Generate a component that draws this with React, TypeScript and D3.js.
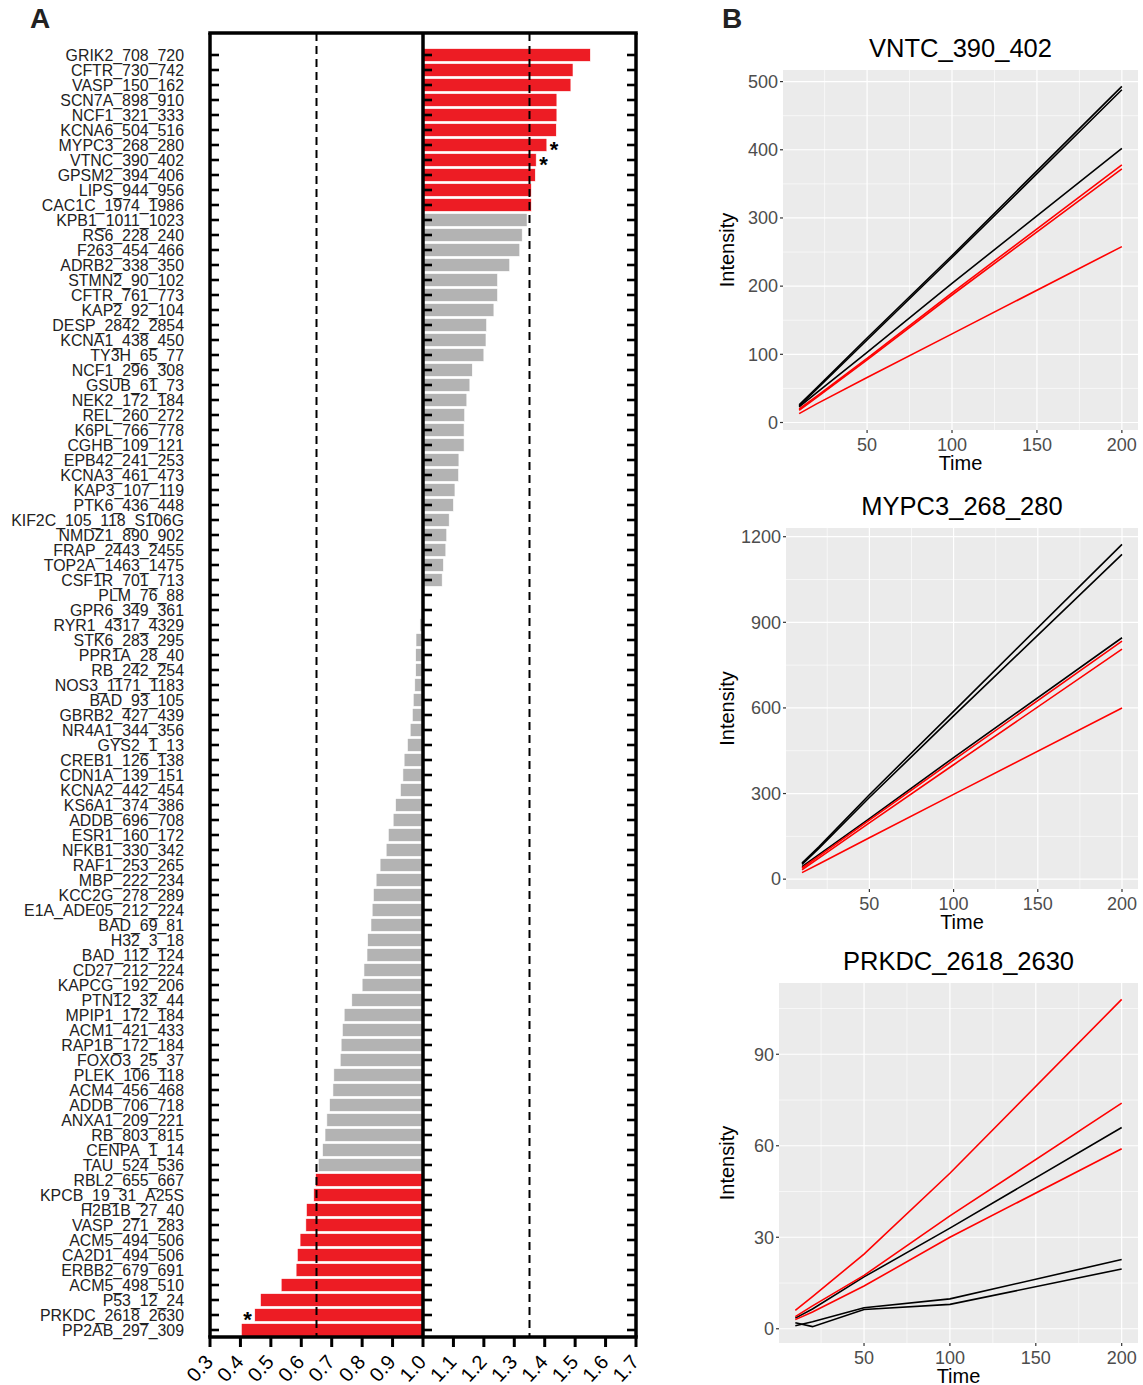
import React from 'react';
import * as d3 from 'd3';

// Panel A: peptide ratios (sorted)
const peptides = [
	'GRIK2_708_720', 'CFTR_730_742', 'VASP_150_162', 'SCN7A_898_910', 'NCF1_321_333',
	'KCNA6_504_516', 'MYPC3_268_280', 'VTNC_390_402', 'GPSM2_394_406', 'LIPS_944_956',
	'CAC1C_1974_1986', 'KPB1_1011_1023', 'RS6_228_240', 'F263_454_466', 'ADRB2_338_350',
	'STMN2_90_102', 'CFTR_761_773', 'KAP2_92_104', 'DESP_2842_2854', 'KCNA1_438_450',
	'TY3H_65_77', 'NCF1_296_308', 'GSUB_61_73', 'NEK2_172_184', 'REL_260_272',
	'K6PL_766_778', 'CGHB_109_121', 'EPB42_241_253', 'KCNA3_461_473', 'KAP3_107_119',
	'PTK6_436_448', 'KIF2C_105_118_S106G', 'NMDZ1_890_902', 'FRAP_2443_2455', 'TOP2A_1463_1475',
	'CSF1R_701_713', 'PLM_76_88', 'GPR6_349_361', 'RYR1_4317_4329', 'STK6_283_295',
	'PPR1A_28_40', 'RB_242_254', 'NOS3_1171_1183', 'BAD_93_105', 'GBRB2_427_439',
	'NR4A1_344_356', 'GYS2_1_13', 'CREB1_126_138', 'CDN1A_139_151', 'KCNA2_442_454',
	'KS6A1_374_386', 'ADDB_696_708', 'ESR1_160_172', 'NFKB1_330_342', 'RAF1_253_265',
	'MBP_222_234', 'KCC2G_278_289', 'E1A_ADE05_212_224', 'BAD_69_81', 'H32_3_18',
	'BAD_112_124', 'CD27_212_224', 'KAPCG_192_206', 'PTN12_32_44', 'MPIP1_172_184',
	'ACM1_421_433', 'RAP1B_172_184', 'FOXO3_25_37', 'PLEK_106_118', 'ACM4_456_468',
	'ADDB_706_718', 'ANXA1_209_221', 'RB_803_815', 'CENPA_1_14', 'TAU_524_536',
	'RBL2_655_667', 'KPCB_19_31_A25S', 'H2B1B_27_40', 'VASP_271_283', 'ACM5_494_506',
	'CA2D1_494_506', 'ERBB2_679_691', 'ACM5_498_510', 'P53_12_24', 'PRKDC_2618_2630',
	'PP2AB_297_309',
];

const ratios = [
	1.55, 1.493, 1.486, 1.44, 1.44,
	1.438, 1.407, 1.372, 1.369, 1.356,
	1.356, 1.342, 1.326, 1.318, 1.285,
	1.245, 1.245, 1.233, 1.209, 1.207,
	1.2, 1.162, 1.154, 1.144, 1.137,
	1.135, 1.135, 1.118, 1.117, 1.105,
	1.1, 1.086, 1.078, 1.075, 1.067,
	1.063, 1.002, 0.998, 0.99, 0.977,
	0.976, 0.976, 0.973, 0.968, 0.965,
	0.958, 0.949, 0.938, 0.934, 0.926,
	0.91, 0.902, 0.886, 0.879, 0.859,
	0.846, 0.837, 0.833, 0.829, 0.818,
	0.816, 0.806, 0.8, 0.766, 0.741,
	0.735, 0.731, 0.728, 0.707, 0.704,
	0.693, 0.684, 0.678, 0.67, 0.656,
	0.647, 0.641, 0.617, 0.615, 0.596,
	0.587, 0.583, 0.534, 0.466, 0.447,
	0.403,
];

const starred = ['MYPC3_268_280', 'VTNC_390_402', 'PRKDC_2618_2630'];
const cutoffs = [0.65, 1.35];
const ratioTicks = [0.3, 0.4, 0.5, 0.6, 0.7, 0.8, 0.9, 1.0, 1.1, 1.2, 1.3, 1.4, 1.5, 1.6, 1.7];

// Panel B: intensity time courses
const times = [10, 20, 50, 100, 200];

const vntcBlack = [
	[26, 50, 124, 245, 493],
	[24, 48, 121, 242, 488],
	[23, 43, 103, 204, 402],
];
const vntcRed = [
	[20, 38, 94, 190, 378],
	[18, 36, 92, 187, 372],
	[13, 27, 66, 130, 258],
];
const vntcTicks = [0, 100, 200, 300, 400, 500];

const mypcBlack = [
	[56, 113, 296, 588, 1173],
	[52, 108, 286, 572, 1138],
	[44, 86, 212, 426, 846],
];
const mypcRed = [
	[39, 81, 207, 417, 834],
	[33, 74, 197, 401, 806],
	[23, 53, 145, 297, 600],
];
const mypcTicks = [0, 300, 600, 900, 1200];

const prkdcBlack = [
	[3.5, 6.5, 17, 33, 66],
	[2, 0.7, 6.3, 8, 19.6],
	[1, 2.3, 6.9, 9.8, 22.7],
];
const prkdcRed = [
	[6, 10.5, 24.5, 51, 108],
	[4, 7.5, 17.5, 37, 74],
	[3, 5.5, 14, 30, 59],
];
const prkdcTicks = [0, 30, 60, 90];

const timeTicks = [50, 100, 150, 200];
const timeMinor = [25, 75, 125, 175];

const FONT = 'Liberation Sans, Arial, Helvetica, sans-serif';
const RED = '#ED1C24';
const GRAY = '#B3B3B3';

function RatioPanel() {
	const top = 33;
	const bottom = 1337;
	const x = d3.scaleLinear().domain([0.3, 1.7]).range([210, 636]);
	const y = d3
		.scaleBand()
		.domain(peptides)
		.range([47.5, 1337.5])
		.paddingInner(0.15)
		.paddingOuter(0.075);
	const x1 = x(1);

	return (
		<g>
			{/* bars */}
			{peptides.map((p, i) => {
				const v = ratios[i];
				const sig = v > cutoffs[1] || v < cutoffs[0];
				const xa = Math.min(x(v), x1);
				return (
					<rect
						key={p}
						x={xa}
						y={y(p)}
						width={Math.abs(x(v) - x1)}
						height={y.bandwidth()}
						fill={sig ? RED : GRAY}
						stroke="#fff"
						strokeWidth={0.6}
					/>
				);
			})}

			{/* cutoff lines */}
			{cutoffs.map((c) => (
				<line
					key={c}
					x1={x(c)}
					x2={x(c)}
					y1={top}
					y2={bottom}
					stroke="#000"
					strokeWidth={2}
					strokeDasharray="8,5"
				/>
			))}

			{/* frame */}
			<line x1={210} x2={636} y1={top} y2={top} stroke="#000" strokeWidth={3.5} strokeLinecap="square" />
			<line x1={210} x2={636} y1={bottom} y2={bottom} stroke="#000" strokeWidth={3.5} strokeLinecap="square" />
			<line x1={210} x2={210} y1={top} y2={bottom} stroke="#000" strokeWidth={3.5} />
			<line x1={636} x2={636} y1={top} y2={bottom} stroke="#000" strokeWidth={3.5} />
			<line x1={x1} x2={x1} y1={top} y2={bottom} stroke="#000" strokeWidth={3.5} />

			{/* category ticks and labels */}
			{peptides.map((p) => {
				const cy = y(p) + y.bandwidth() / 2;
				return (
					<g key={p}>
						<line x1={210} x2={219} y1={cy} y2={cy} stroke="#000" strokeWidth={2.6} />
						<line x1={x1} x2={x1 + 9} y1={cy} y2={cy} stroke="#000" strokeWidth={2.6} />
						<line x1={627} x2={636} y1={cy} y2={cy} stroke="#000" strokeWidth={2.6} />
						<text x={184} y={cy} dy="0.36em" textAnchor="end" fontSize={15.9} fontFamily={FONT} fill="#222">
							{p}
						</text>
					</g>
				);
			})}

			{/* significance stars */}
			{starred.map((p) => {
				const i = peptides.indexOf(p);
				const v = ratios[i];
				const cy = y(p) + y.bandwidth() / 2;
				const right = v > 1;
				return (
					<text
						key={p}
						x={right ? x(v) + 3 : x(v) - 3}
						y={cy + 12}
						textAnchor={right ? 'start' : 'end'}
						fontSize={22}
						fontWeight="bold"
						fontFamily={FONT}
					>
						*
					</text>
				);
			})}

			{/* bottom axis */}
			{ratioTicks.map((t) => (
				<g key={t}>
					<line x1={x(t)} x2={x(t)} y1={bottom} y2={bottom + 10} stroke="#000" strokeWidth={3} />
					<text
						transform={`translate(${x(t) - 1},${bottom + 21}) rotate(-48)`}
						textAnchor="end"
						dy="0.35em"
						fontSize={20}
						fontFamily={FONT}
					>
						{t.toFixed(1)}
					</text>
				</g>
			))}

			<text x={30} y={28} fontSize={28} fontWeight="bold" fontFamily={FONT} fill="#222">
				A
			</text>
		</g>
	);
}

function TimePanel(props) {
	const { title, left, right, top, bottom, black, red, yTicks } = props;
	const all = [...black, ...red].flat();
	const [lo, hi] = d3.extent(all);
	const padY = (hi - lo) * 0.05;
	const padX = (200 - 10) * 0.05;
	const x = d3.scaleLinear().domain([10 - padX, 200 + padX]).range([left, right]);
	const y = d3.scaleLinear().domain([lo - padY, hi + padY]).range([bottom, top]);
	const step = yTicks[1] - yTicks[0];
	const yMinor = [yTicks[0] - step / 2, ...yTicks.map((t) => t + step / 2)].filter(
		(t) => t > lo - padY && t < hi + padY
	);
	const line = d3
		.line()
		.x((d, i) => x(times[i]))
		.y((d) => y(d));
	const cx = (left + right) / 2;

	return (
		<g>
			<rect x={left} y={top} width={right - left} height={bottom - top} fill="#EBEBEB" />
			{timeMinor.map((t) => (
				<line key={'xm' + t} x1={x(t)} x2={x(t)} y1={top} y2={bottom} stroke="#fff" strokeWidth={0.6} />
			))}
			{yMinor.map((t) => (
				<line key={'ym' + t} x1={left} x2={right} y1={y(t)} y2={y(t)} stroke="#fff" strokeWidth={0.6} />
			))}
			{timeTicks.map((t) => (
				<line key={'x' + t} x1={x(t)} x2={x(t)} y1={top} y2={bottom} stroke="#fff" strokeWidth={1.2} />
			))}
			{yTicks.map((t) => (
				<line key={'y' + t} x1={left} x2={right} y1={y(t)} y2={y(t)} stroke="#fff" strokeWidth={1.2} />
			))}

			{black.map((s, i) => (
				<path key={'b' + i} d={line(s)} fill="none" stroke="#000" strokeWidth={1.6} />
			))}
			{red.map((s, i) => (
				<path key={'r' + i} d={line(s)} fill="none" stroke="#FF0000" strokeWidth={1.6} />
			))}

			{yTicks.map((t) => (
				<g key={'yl' + t}>
					<line x1={left - 3} x2={left} y1={y(t)} y2={y(t)} stroke="#333" strokeWidth={1.2} />
					<text
						x={left - 5}
						y={y(t)}
						dy="0.35em"
						textAnchor="end"
						fontSize={18}
						fontFamily={FONT}
						fill="#4D4D4D"
					>
						{t}
					</text>
				</g>
			))}
			{timeTicks.map((t) => (
				<g key={'xl' + t}>
					<line x1={x(t)} x2={x(t)} y1={bottom} y2={bottom + 3} stroke="#333" strokeWidth={1.2} />
					<text x={x(t)} y={bottom + 21} textAnchor="middle" fontSize={18} fontFamily={FONT} fill="#4D4D4D">
						{t}
					</text>
				</g>
			))}

			<text x={cx} y={top - 13} textAnchor="middle" fontSize={25.5} fontFamily={FONT}>
				{title}
			</text>
			<text x={cx} y={bottom + 40} textAnchor="middle" fontSize={20} fontFamily={FONT}>
				Time
			</text>
			<text
				transform={`translate(727,${(top + bottom) / 2}) rotate(-90)`}
				textAnchor="middle"
				dy="0.35em"
				fontSize={20}
				fontFamily={FONT}
			>
				Intensity
			</text>
		</g>
	);
}

export default function App() {
	return (
		<svg
			width={1143}
			height={1385}
			style={{ position: 'absolute', left: 0, top: 0, background: '#fff' }}
		>
			<RatioPanel />
			<text x={722} y={28} fontSize={28} fontWeight="bold" fontFamily={FONT} fill="#222">
				B
			</text>
			<TimePanel
				title="VNTC_390_402"
				left={783}
				right={1138}
				top={70}
				bottom={430}
				black={vntcBlack}
				red={vntcRed}
				yTicks={vntcTicks}
			/>
			<TimePanel
				title="MYPC3_268_280"
				left={786}
				right={1138}
				top={528}
				bottom={889}
				black={mypcBlack}
				red={mypcRed}
				yTicks={mypcTicks}
			/>
			<TimePanel
				title="PRKDC_2618_2630"
				left={779}
				right={1138}
				top={983}
				bottom={1343}
				black={prkdcBlack}
				red={prkdcRed}
				yTicks={prkdcTicks}
			/>
		</svg>
	);
}
